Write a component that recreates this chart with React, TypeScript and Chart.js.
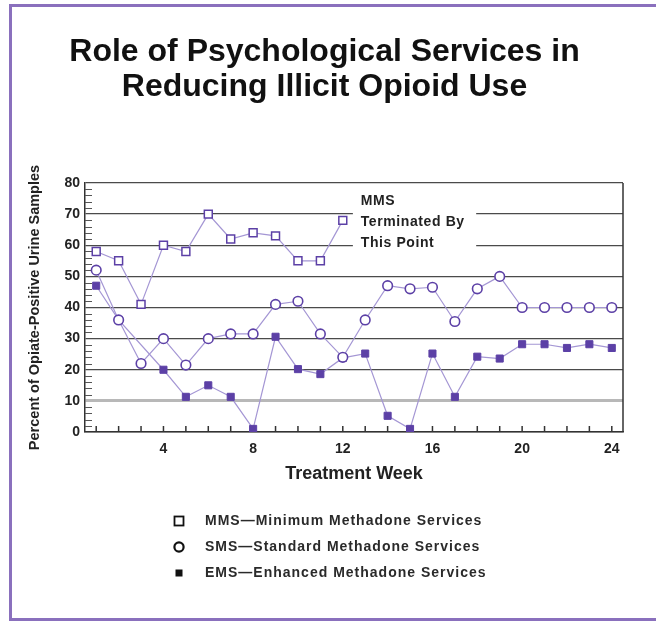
import React, { useEffect, useRef } from 'react';
import { Chart, registerables } from 'chart.js';

Chart.register(...registerables);

const FONT = '"Liberation Sans", Arial, Helvetica, sans-serif';

const TITLE_LINES = ['Role of Psychological Services in', 'Reducing Illicit Opioid Use'];
const X_TITLE = 'Treatment Week';
const Y_TITLE = 'Percent of Opiate-Positive Urine Samples';

const WEEKS = [1, 2, 3, 4, 5, 6, 7, 8, 9, 10, 11, 12, 13, 14, 15, 16, 17, 18, 19, 20, 21, 22, 23, 24];
const X_LABELED = [4, 8, 12, 16, 20, 24];
const Y_TICKS = [0, 10, 20, 30, 40, 50, 60, 70, 80];
const Y_MINOR = [2, 4, 6, 8, 12, 14, 16, 18, 22, 24, 26, 28, 32, 34, 36, 38, 42, 44, 46, 48, 52, 54, 56, 58, 62, 64, 66, 68, 72, 74, 76, 78];

const MMS_LABEL = 'MMS\u2014Minimum Methadone Services';
const SMS_LABEL = 'SMS\u2014Standard Methadone Services';
const EMS_LABEL = 'EMS\u2014Enhanced Methadone Services';

const MMS_VALUES = [58, 55, 41, 60, 58, 70, 62, 64, 63, 55, 55, 68];
const SMS_VALUES = [52, 36, 22, 30, 21.5, 30, 31.5, 31.5, 41, 42, 31.5, 24, 36, 47, 46, 46.5, 35.5, 46, 50, 40, 40, 40, 40, 40];
const EMS_VALUES = [47, 36, null, 20, 11.3, 15, 11.3, 1, 30.6, 20.2, 18.6, 23.8, 25.2, 5.2, 1, 25.2, 11.3, 24.2, 23.6, 28.2, 28.2, 27, 28.2, 27];

const NOTE_LINES = ['MMS', 'Terminated By', 'This Point'];

const toPoints = (vals: (number | null)[]) => vals.map((v, i) => ({ x: WEEKS[i], y: v }));

const LINE_COLOR = '#a496d4';
const MARK_COLOR = '#5c40a6';

const decorPlugin = {
  id: 'decor',
  beforeDraw(chart: any) {
    const ctx = chart.ctx;
    ctx.save();
    ctx.fillStyle = '#ffffff';
    ctx.fillRect(0, 0, chart.width, chart.height);
    ctx.strokeStyle = '#8a70bd';
    ctx.lineWidth = 3;
    ctx.beginPath();
    ctx.moveTo(10.5, 5.5);
    ctx.lineTo(chart.width, 5.5);
    ctx.moveTo(10.5, 4);
    ctx.lineTo(10.5, 620);
    ctx.moveTo(9, 619.5);
    ctx.lineTo(chart.width, 619.5);
    ctx.stroke();
    ctx.restore();
  },
  beforeDatasetsDraw(chart: any) {
    const ctx = chart.ctx;
    const xs = chart.scales.x;
    const ys = chart.scales.y;
    const a = chart.chartArea;
    ctx.save();
    // right border of plot
    ctx.strokeStyle = '#333';
    ctx.lineWidth = 1.5;
    ctx.beginPath();
    ctx.moveTo(a.right, a.top);
    ctx.lineTo(a.right, a.bottom);
    ctx.stroke();
    // y minor ticks
    ctx.strokeStyle = '#555';
    ctx.lineWidth = 1.2;
    ctx.beginPath();
    for (const v of Y_MINOR) {
      const y = Math.round(ys.getPixelForValue(v)) + 0.5;
      ctx.moveTo(a.left, y);
      ctx.lineTo(a.left + 7, y);
    }
    ctx.stroke();
    // x week ticks
    ctx.strokeStyle = '#333';
    ctx.lineWidth = 1.5;
    ctx.beginPath();
    for (const w of WEEKS) {
      const x = xs.getPixelForValue(w);
      ctx.moveTo(x, a.bottom);
      ctx.lineTo(x, a.bottom - 6);
    }
    ctx.stroke();
    // annotation
    const bx0 = xs.getPixelForValue(12.45);
    const bx1 = xs.getPixelForValue(17.95);
    const by0 = ys.getPixelForValue(78);
    const by1 = ys.getPixelForValue(56);
    ctx.fillStyle = '#ffffff';
    ctx.fillRect(bx0, by0, bx1 - bx0, by1 - by0);
    ctx.fillStyle = '#222';
    ctx.font = 'bold 14px ' + FONT;
    (ctx as any).letterSpacing = '0.6px';
    ctx.textAlign = 'left';
    ctx.textBaseline = 'middle';
    const noteY = [74.3, 67.5, 60.8];
    NOTE_LINES.forEach((t, i) => {
      ctx.fillText(t, xs.getPixelForValue(12.8), ys.getPixelForValue(noteY[i]));
    });
    ctx.restore();
  },
  afterDraw(chart: any) {
    const ctx = chart.ctx;
    const base = chart.chartArea.bottom;
    const rowsY = [base + 89, base + 115, base + 141];
    const mx = 179;
    const tx = 205;
    ctx.save();
    ctx.strokeStyle = '#111';
    ctx.fillStyle = '#111';
    // open square
    ctx.lineWidth = 1.8;
    ctx.strokeRect(mx - 4.5, rowsY[0] - 4.5, 9, 9);
    // open circle
    ctx.lineWidth = 2.2;
    ctx.beginPath();
    ctx.arc(mx, rowsY[1], 4.6, 0, Math.PI * 2);
    ctx.stroke();
    // filled square
    ctx.fillRect(mx - 3.5, rowsY[2] - 3.5, 7, 7);
    ctx.fillStyle = '#2a2a2a';
    ctx.font = 'bold 14px ' + FONT;
    (ctx as any).letterSpacing = '1px';
    ctx.textAlign = 'left';
    ctx.textBaseline = 'middle';
    chart.data.datasets.forEach((ds: any, i: number) => {
      ctx.fillText(ds.label, tx, rowsY[i]);
    });
    ctx.restore();
  },
};

export default function App() {
  const ref = useRef<HTMLCanvasElement>(null);
  useEffect(() => {
    Chart.defaults.font.family = FONT;
    const chart = new Chart(ref.current as HTMLCanvasElement, {
      type: 'line',
      data: {
        datasets: [
          {
            label: MMS_LABEL,
            data: toPoints(MMS_VALUES),
            borderColor: LINE_COLOR,
            borderWidth: 1.2,
            pointStyle: 'rect',
            pointRadius: 5.6,
            pointBackgroundColor: '#ffffff',
            pointBorderColor: MARK_COLOR,
            pointBorderWidth: 1.5,
          },
          {
            label: SMS_LABEL,
            data: toPoints(SMS_VALUES),
            borderColor: LINE_COLOR,
            borderWidth: 1.2,
            pointStyle: 'circle',
            pointRadius: 4.8,
            pointBackgroundColor: '#ffffff',
            pointBorderColor: MARK_COLOR,
            pointBorderWidth: 1.6,
          },
          {
            label: EMS_LABEL,
            data: toPoints(EMS_VALUES),
            borderColor: LINE_COLOR,
            borderWidth: 1.2,
            spanGaps: true,
            pointStyle: 'rect',
            pointRadius: 5,
            pointBackgroundColor: MARK_COLOR,
            pointBorderColor: MARK_COLOR,
            pointBorderWidth: 1,
          },
        ] as any,
      },
      options: {
        responsive: false,
        animation: false,
        devicePixelRatio: 1,
        layout: { padding: { left: 26, right: 33, top: 0, bottom: 136 } },
        plugins: {
          legend: { display: false },
          tooltip: { enabled: false },
          title: {
            display: true,
            text: TITLE_LINES,
            color: '#111',
            font: { family: FONT, size: 32, weight: 'bold', lineHeight: 35 / 32 },
            padding: { top: 35, bottom: 78 },
          },
        },
        scales: {
          x: {
            type: 'linear',
            min: 0.5,
            max: 24.5,
            afterBuildTicks: (s: any) => {
              s.ticks = WEEKS.map((v) => ({ value: v }));
            },
            afterFit: (s: any) => {
              s.height = 54;
            },
            grid: { display: false, drawTicks: false },
            border: { display: true, color: '#333', width: 1.5 },
            ticks: {
              autoSkip: false,
              maxRotation: 0,
              padding: 9,
              color: '#222',
              font: { family: FONT, size: 14, weight: 'bold' },
              callback: (v: any) => (X_LABELED.includes(Number(v)) ? String(v) : ''),
            },
            title: {
              display: true,
              text: X_TITLE,
              color: '#222',
              font: { family: FONT, size: 18, weight: 'bold' },
              padding: { top: 0, bottom: 1 },
            },
          },
          y: {
            type: 'linear',
            min: 0,
            max: 80,
            afterBuildTicks: (s: any) => {
              s.ticks = Y_TICKS.map((v) => ({ value: v }));
            },
            afterFit: (s: any) => {
              s.width = 59;
            },
            grid: {
              drawTicks: false,
              color: (c: any) => (c.tick && c.tick.value === 10 ? '#b8b8b8' : '#4a4a4a'),
              lineWidth: (c: any) => (c.tick && c.tick.value === 10 ? 3 : 1.3),
            },
            border: { display: true, color: '#333', width: 1.5 },
            ticks: {
              padding: 5,
              color: '#222',
              font: { family: FONT, size: 14, weight: 'bold' },
            },
            title: {
              display: true,
              text: Y_TITLE,
              color: '#222',
              font: { family: FONT, size: 14.5, weight: 'bold' },
              padding: 0,
            },
          },
        },
      } as any,
      plugins: [decorPlugin],
    });
    return () => chart.destroy();
  }, []);
  return (
    <div style={{ position: 'absolute', left: 0, top: 0, width: 656, height: 622, background: '#fff' }}>
      <canvas ref={ref} width={656} height={622} style={{ display: 'block' }} />
    </div>
  );
}
